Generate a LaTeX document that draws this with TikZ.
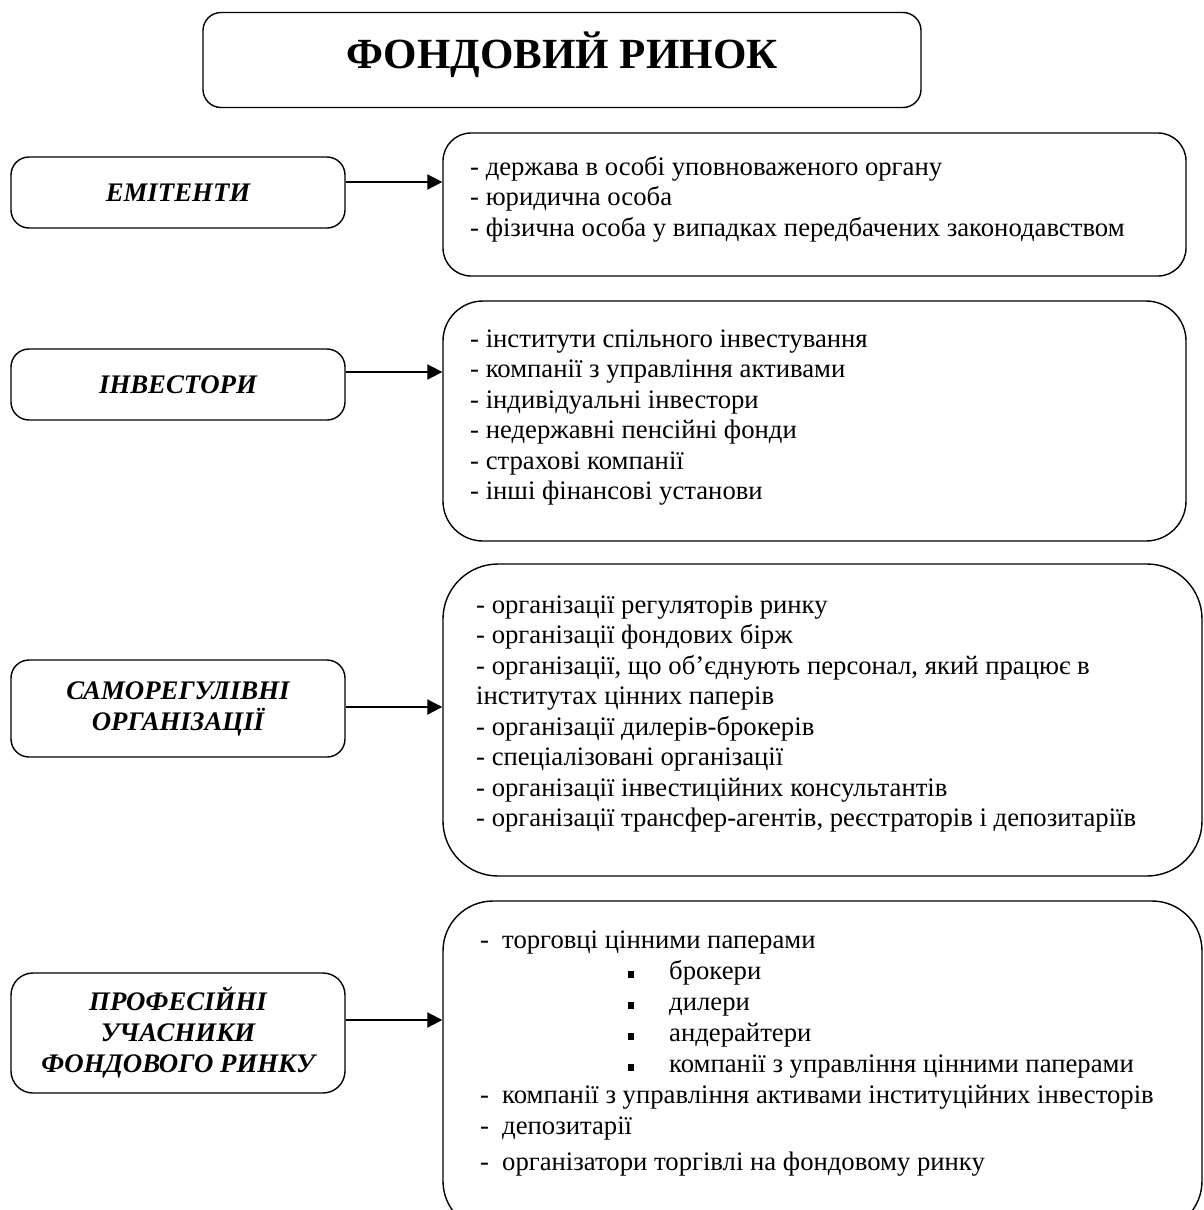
\documentclass[tikz,border=0pt]{standalone}
\usepackage{fontspec}
\setmainfont{Liberation Serif}
\usetikzlibrary{arrows.meta}
\newcommand{\bul}{\rule[1pt]{6pt}{7pt}}
\begin{document}
\begin{tikzpicture}[x=1pt,y=-1pt,
  box/.style={draw, line width=1.4pt, rounded corners=#1, inner sep=0pt},
  lab/.style={box=18pt, minimum width=334pt, align=center,
    font=\fontsize{26.8}{31}\selectfont\bfseries\itshape},
  lst/.style={anchor=north west, inner sep=0pt, align=left,
    font=\fontsize{26.7}{30.5}\selectfont},
  arr/.style={line width=2pt, -{Triangle[length=15pt,width=15pt]}}
]
\useasboundingbox (0,0) rectangle (1203,1210);

% title
\node[box=18pt, minimum width=718pt, minimum height=95pt,
      font=\fontsize{43}{50}\selectfont\bfseries, text height=30pt, text depth=14pt]
  (title) at (562,60) {ФОНДОВИЙ РИНОК};

% left labels
\node[lab, minimum height=71pt] (l1) at (178,192.5) {ЕМІТЕНТИ};
\node[lab, minimum height=71pt] (l2) at (178,384.5) {ІНВЕСТОРИ};
\node[lab, minimum height=97pt] (l3) at (178,708.5) {САМОРЕГУЛІВНІ\\ОРГАНІЗАЦІЇ};
\node[lab, minimum height=120pt, box=22pt] (l4) at (178,1033) {ПРОФЕСІЙНІ\\УЧАСНИКИ\\ФОНДОВОГО РИНКУ};

% right boxes
\node[box=28pt, minimum width=743pt, minimum height=143pt] (r1) at (814.5,204.5) {};
\node[box=40pt, minimum width=743pt, minimum height=240pt] (r2) at (814.5,421) {};
\node[box=55pt, minimum width=759pt, minimum height=312pt] (r3) at (822.5,720) {};
\node[box=50pt, minimum width=759pt, minimum height=330pt] (r4) at (822.5,1066) {};

% lists
\node[lst] (t1) at (470,153.65) {\strut- держава в особі уповноваженого органу\\
- юридична особа\\
- фізична особа у випадках передбачених законодавством};

\node[lst] (t2) at (470,325.65) {\strut- інститути спільного інвестування\\
- компанії з управління активами\\
- індивідуальні інвестори\\
- недержавні пенсійні фонди\\
- страхові компанії\\
- інші фінансові установи};

\node[lst] (t3) at (476,591.65) {\strut- організації регуляторів ринку\\
- організації фондових бірж\\
- організації, що об’єднують персонал, який працює в\\
інститутах цінних паперів\\
- організації дилерів-брокерів\\
- спеціалізовані організації\\
- організації інвестиційних консультантів\\
- організації трансфер-агентів, реєстраторів і депозитаріїв};

\node[lst, font=\fontsize{26.7}{31}\selectfont] (t4) at (480,926.3) {\strut\makebox[22pt][l]{-}торговці цінними паперами\\
\hspace*{148pt}\makebox[41pt][l]{\bul}брокери\\
\hspace*{148pt}\makebox[41pt][l]{\bul}дилери\\
\hspace*{148pt}\makebox[41pt][l]{\bul}андерайтери\\
\hspace*{148pt}\makebox[41pt][l]{\bul}компанії з управління цінними паперами\\
\makebox[22pt][l]{-}компанії з управління активами інституційних інвесторів\\
\makebox[22pt][l]{-}депозитарії\\[5pt]
\makebox[22pt][l]{-}організатори торгівлі на фондовому ринку};

% arrows
\coordinate (y1) at (0,182);
\coordinate (y2) at (0,372);
\coordinate (y3) at (0,707);
\coordinate (y4) at (0,1020);
\draw[arr] (l1.east |- y1) -- (r1.west |- y1);
\draw[arr] (l2.east |- y2) -- (r2.west |- y2);
\draw[arr] (l3.east |- y3) -- (r3.west |- y3);
\draw[arr] (l4.east |- y4) -- (r4.west |- y4);
\end{tikzpicture}
\end{document}
